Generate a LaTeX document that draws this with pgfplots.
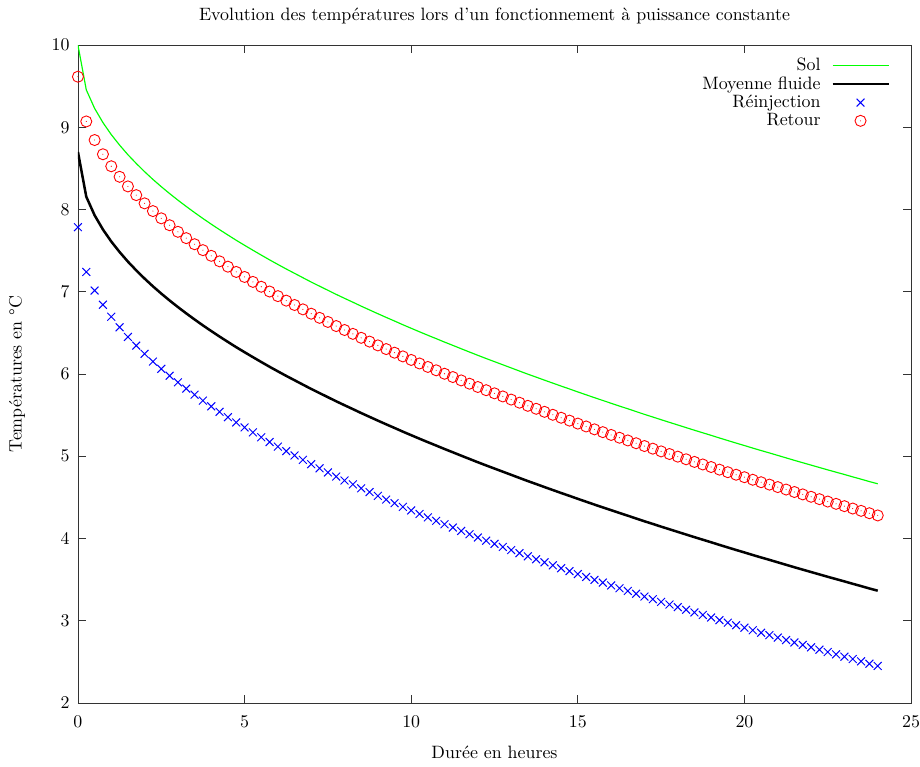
\documentclass[border=0pt]{standalone}
\usepackage{pgfplots}
\usepackage{pgfplotstable}
\pgfplotsset{compat=1.18}
\pgfdeclareplotmark{odot}{%
  \pgfpathcircle{\pgfpointorigin}{\pgfplotmarksize}\pgfusepathqstroke
  \pgfpathcircle{\pgfpointorigin}{0.3pt}\pgfusepathqfill}
\pgfplotsset{
  longline legend/.style={legend image code/.code={\draw[##1] (0cm,0cm) -- (1.1cm,0cm);}},
  thinline legend/.style={legend image code/.code={\draw[##1, line width=0.9pt] (0cm,0cm) -- (1.1cm,0cm);}},
  midmark legend/.style={legend image code/.code={\draw[##1] plot coordinates {(0.55cm,0cm)};}},
}
\pgfplotstableread{
t sol moy reinj retour
0 10 8.7 7.785 9.615
0.25 9.456 8.156 7.241 9.071
0.5 9.230 7.930 7.015 8.845
0.75 9.057 7.757 6.842 8.672
1 8.911 7.611 6.696 8.526
1.25 8.783 7.483 6.568 8.398
1.5 8.666 7.366 6.451 8.281
1.75 8.560 7.260 6.345 8.175
2 8.460 7.160 6.245 8.075
2.25 8.366 7.066 6.151 7.981
2.5 8.278 6.978 6.063 7.893
2.75 8.194 6.894 5.979 7.809
3 8.114 6.814 5.899 7.729
3.25 8.037 6.737 5.822 7.652
3.5 7.963 6.663 5.748 7.578
3.75 7.891 6.591 5.676 7.506
4 7.822 6.522 5.607 7.437
4.25 7.755 6.455 5.540 7.370
4.5 7.690 6.390 5.475 7.305
4.75 7.626 6.326 5.411 7.241
5 7.565 6.265 5.350 7.180
5.25 7.505 6.205 5.290 7.120
5.5 7.446 6.146 5.231 7.061
5.75 7.388 6.088 5.173 7.003
6 7.332 6.032 5.117 6.947
6.25 7.277 5.977 5.062 6.892
6.5 7.224 5.924 5.009 6.839
6.75 7.171 5.871 4.956 6.786
7 7.118 5.818 4.903 6.733
7.25 7.068 5.768 4.853 6.683
7.5 7.018 5.718 4.803 6.633
7.75 6.968 5.668 4.753 6.583
8 6.920 5.620 4.705 6.535
8.25 6.873 5.573 4.658 6.488
8.5 6.825 5.525 4.610 6.440
8.75 6.779 5.479 4.564 6.394
9 6.733 5.433 4.518 6.348
9.25 6.688 5.388 4.473 6.303
9.5 6.644 5.344 4.429 6.259
9.75 6.599 5.299 4.384 6.214
10 6.556 5.256 4.341 6.171
10.25 6.513 5.213 4.298 6.128
10.5 6.471 5.171 4.256 6.086
10.75 6.430 5.130 4.215 6.045
11 6.388 5.088 4.173 6.003
11.25 6.348 5.048 4.133 5.963
11.5 6.307 5.007 4.092 5.922
11.75 6.267 4.967 4.052 5.882
12 6.227 4.927 4.012 5.842
12.25 6.188 4.888 3.973 5.803
12.5 6.150 4.850 3.935 5.765
12.75 6.112 4.812 3.897 5.727
13 6.074 4.774 3.859 5.689
13.25 6.036 4.736 3.821 5.651
13.5 5.998 4.698 3.783 5.613
13.75 5.962 4.662 3.747 5.577
14 5.925 4.625 3.710 5.540
14.25 5.889 4.589 3.674 5.504
14.5 5.853 4.553 3.638 5.468
14.75 5.818 4.518 3.603 5.433
15 5.782 4.482 3.567 5.397
15.25 5.747 4.447 3.532 5.362
15.5 5.712 4.412 3.497 5.327
15.75 5.678 4.378 3.463 5.293
16 5.644 4.344 3.429 5.259
16.25 5.610 4.310 3.395 5.225
16.5 5.577 4.277 3.362 5.192
16.75 5.543 4.243 3.328 5.158
17 5.509 4.209 3.294 5.124
17.25 5.477 4.177 3.262 5.092
17.5 5.444 4.144 3.229 5.059
17.75 5.412 4.112 3.197 5.027
18 5.380 4.080 3.165 4.995
18.25 5.348 4.048 3.133 4.963
18.5 5.316 4.016 3.101 4.931
18.75 5.285 3.985 3.070 4.900
19 5.254 3.954 3.039 4.869
19.25 5.222 3.922 3.007 4.837
19.5 5.191 3.891 2.976 4.806
19.75 5.160 3.860 2.945 4.775
20 5.130 3.830 2.915 4.745
20.25 5.099 3.799 2.884 4.714
20.5 5.069 3.769 2.854 4.684
20.75 5.040 3.740 2.825 4.655
21 5.010 3.710 2.795 4.625
21.25 4.980 3.680 2.765 4.595
21.5 4.950 3.650 2.735 4.565
21.75 4.921 3.621 2.706 4.536
22 4.892 3.592 2.677 4.507
22.25 4.863 3.563 2.648 4.478
22.5 4.834 3.534 2.619 4.449
22.75 4.806 3.506 2.591 4.421
23 4.778 3.478 2.563 4.393
23.25 4.749 3.449 2.534 4.364
23.5 4.721 3.421 2.506 4.336
23.75 4.692 3.392 2.477 4.307
24 4.665 3.365 2.450 4.280
}\data
\begin{document}
\begin{tikzpicture}
\begin{axis}[
  name=A,
  scale only axis, width=466pt, height=368pt,
  xmin=0, xmax=25, ymin=2, ymax=10,
  xtick={0,5,...,25}, ytick={2,3,...,10},
  tick align=inside, major tick length=4.5pt,
  axis line style={black!80},
  every tick/.style={black!80},
  title={Evolution des températures lors d'un fonctionnement à puissance constante},
  title style={yshift=2pt},
  xlabel={Durée en heures},
  ylabel={Températures en °C},
  xticklabel style={yshift=-3.5pt},
  yticklabel style={xshift=-1.2pt},
  xlabel shift=3.5pt,
  ylabel shift=8pt,
  legend plot pos=right,
  legend cell align=right,
  legend style={draw=none, fill=none, at={(rel axis cs:0.977,0.989)}, anchor=north east, row sep=-2.2pt, column sep=4pt, inner sep=1pt},
]
\addplot[green, line width=0.65pt, mark=none, thinline legend] table[x=t,y=sol]{\data};
\addlegendentry{Sol}
\addplot[black, line width=1.4pt, mark=none, longline legend] table[x=t,y=moy]{\data};
\addlegendentry{Moyenne fluide}
\addplot[blue, only marks, mark=x, mark size=3.1pt, line width=0.55pt, midmark legend] table[x=t,y=reinj]{\data};
\addlegendentry{Réinjection}
\addplot[red, only marks, mark=odot, mark size=3.1pt, line width=0.5pt, midmark legend] table[x=t,y=retour]{\data};
\addlegendentry{Retour}
\end{axis}
\pgfresetboundingbox
\path ([xshift=-43.6pt,yshift=-35.8pt]A.south west) rectangle ([xshift=5pt,yshift=25.2pt]A.north east);
\end{tikzpicture}
\end{document}
